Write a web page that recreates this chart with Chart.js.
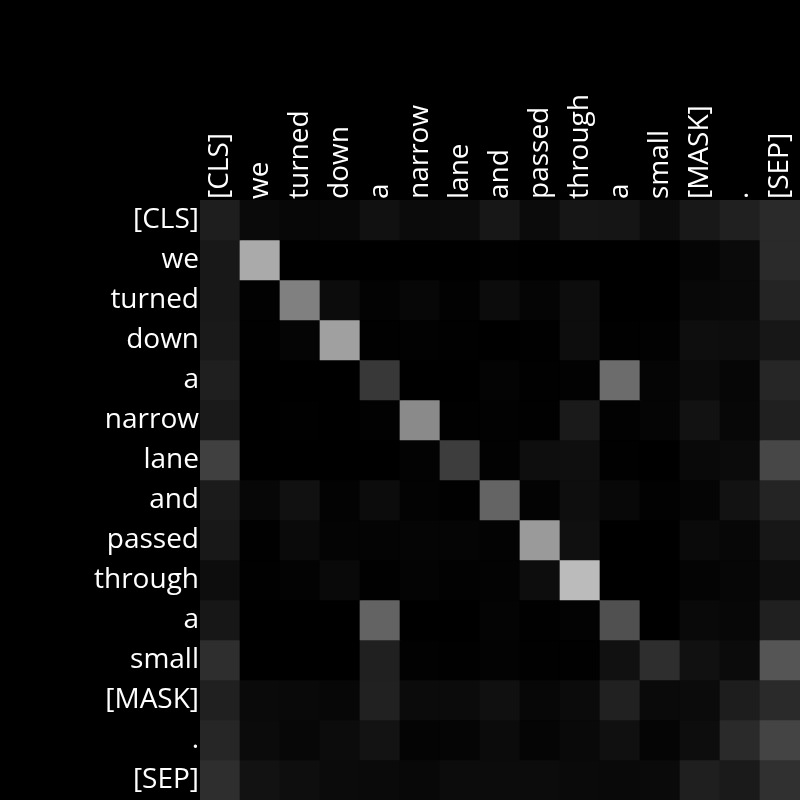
<!DOCTYPE html>
<html>
<head>
<meta charset="utf-8">
<script src="https://cdn.jsdelivr.net/npm/chart.js@4/dist/chart.umd.min.js"></script>
<style>
  html, body { margin: 0; padding: 0; background: #000; }
  #wrap { width: 800px; height: 800px; }
</style>
</head>
<body>
<div id="wrap"><canvas id="c" width="800" height="800"></canvas></div>
<script>
// Tokens (rows = queries, columns = keys)
const tokens = ['[CLS]', 'we', 'turned', 'down', 'a', 'narrow', 'lane', 'and', 'passed', 'through', 'a', 'small', '[MASK]', '.', '[SEP]'];

// Attention intensity per row, as grey level 0-255
const rowCLS     = [30, 10, 7, 8, 17, 11, 12, 23, 11, 22, 21, 12, 24, 32, 42];
const rowWe      = [24, 170, 0, 0, 0, 0, 0, 1, 0, 0, 0, 0, 5, 10, 42];
const rowTurned  = [24, 2, 128, 12, 3, 7, 2, 12, 5, 13, 0, 0, 8, 9, 36];
const rowDown    = [26, 1, 5, 160, 1, 2, 1, 0, 1, 13, 1, 2, 14, 13, 23];
const rowA1      = [31, 0, 0, 0, 56, 0, 0, 4, 1, 2, 108, 5, 11, 6, 38];
const rowNarrow  = [26, 0, 1, 0, 2, 138, 1, 2, 1, 26, 2, 5, 18, 7, 32];
const rowLane    = [64, 0, 0, 0, 0, 3, 61, 2, 14, 15, 1, 0, 9, 11, 71];
const rowAnd     = [27, 7, 17, 3, 12, 3, 1, 100, 3, 14, 8, 2, 5, 18, 36];
const rowPassed  = [24, 1, 10, 4, 4, 5, 5, 3, 154, 16, 0, 0, 10, 7, 23];
const rowThrough = [13, 1, 3, 9, 1, 4, 2, 3, 13, 187, 0, 0, 4, 6, 14];
const rowA2      = [23, 0, 0, 0, 99, 0, 0, 4, 1, 3, 80, 0, 9, 7, 32];
const rowSmall   = [46, 0, 0, 0, 32, 2, 1, 3, 1, 1, 17, 46, 17, 11, 85];
const rowMask    = [32, 10, 9, 7, 33, 11, 11, 16, 7, 11, 33, 10, 11, 29, 42];
const rowDot     = [38, 11, 7, 12, 19, 4, 5, 11, 5, 9, 16, 5, 13, 42, 68];
const rowSEP     = [46, 18, 14, 11, 10, 8, 12, 12, 12, 10, 9, 10, 31, 26, 48];

const matrix = [rowCLS, rowWe, rowTurned, rowDown, rowA1, rowNarrow, rowLane, rowAnd,
                rowPassed, rowThrough, rowA2, rowSmall, rowMask, rowDot, rowSEP];

const grey = v => `rgb(${v},${v},${v})`;

// Each row is a dataset of unit-height stacked bars, one per column
const datasets = matrix.map((row, r) => ({
  label: tokens[r],
  data: row.map(() => 1),
  backgroundColor: row.map(grey),
  borderWidth: 0,
  barPercentage: 1.0,
  categoryPercentage: 1.0,
  stack: 's'
}));

const labelFont = { family: "'Open Sans', 'Noto Sans', sans-serif", size: 28 };

new Chart(document.getElementById('c'), {
  type: 'bar',
  data: { labels: tokens, datasets },
  options: {
    responsive: false,
    animation: false,
    layout: { padding: 0 },
    plugins: { legend: { display: false }, tooltip: { enabled: false } },
    scales: {
      x: {
        position: 'top',
        stacked: true,
        grid: { display: false, drawTicks: false },
        border: { display: false },
        ticks: {
          color: '#fff',
          font: labelFont,
          minRotation: 90,
          maxRotation: 90,
          autoSkip: false,
          padding: 1,
          labelOffset: 34
        },
        afterFit: s => { s.height = 200; s.paddingLeft = 0; s.paddingRight = 0; }
      },
      y: {
        stacked: true,
        reverse: true,
        min: 0,
        max: tokens.length,
        grid: { display: false, drawTicks: false },
        border: { display: false },
        afterBuildTicks: s => { s.ticks = tokens.map((_, i) => ({ value: i + 0.5 })); },
        ticks: {
          color: '#fff',
          font: labelFont,
          padding: 1,
          autoSkip: false,
          callback: v => tokens[Math.floor(v)]
        },
        afterFit: s => { s.width = 200; s.paddingTop = 0; s.paddingBottom = 0; }
      }
    }
  }
});
</script>
</body>
</html>
